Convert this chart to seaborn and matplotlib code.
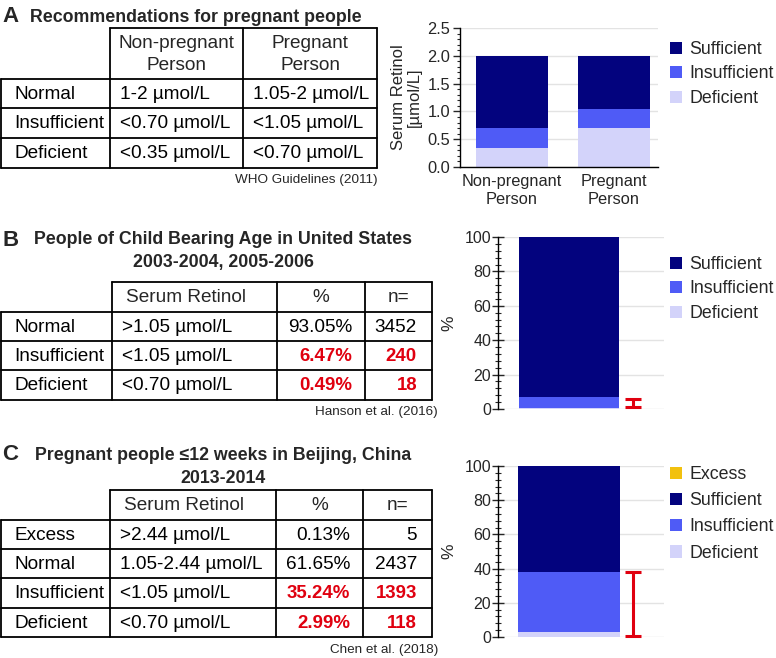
import numpy as np
import pandas as pd
import seaborn as sns
import matplotlib.pyplot as plt
from matplotlib.patches import Patch
from matplotlib.ticker import AutoMinorLocator

#figure size in pixels
W, H = 776, 658

#colours
c_suff = "#03037e"
c_insuff = "#4f5bf6"
c_def = "#d3d3fa"
c_exc = "#f2c10e"
c_red = "#e0000f"

#panel A data
a_title = "Recommendations for pregnant people"
a_groups = ["Non-pregnant\nPerson", "Pregnant\nPerson"]
a_rows = ["Normal", "Insufficient", "Deficient"]
a_nonpreg = ["1-2 µmol/L", "<0.70 µmol/L", "<0.35 µmol/L"]
a_preg = ["1.05-2 µmol/L", "<1.05 µmol/L", "<0.70 µmol/L"]
a_source = "WHO Guidelines (2011)"
a_deficient = [0.35, 0.70]
a_insufficient = [0.35, 0.35]
a_sufficient = [1.30, 0.95]

#panel B data
b_title = "People of Child Bearing Age in United States\n2003-2004, 2005-2006"
b_rows = ["Normal", "Insufficient", "Deficient"]
b_range = [">1.05 µmol/L", "<1.05 µmol/L", "<0.70 µmol/L"]
b_pct = [93.05, 6.47, 0.49]
b_n = [3452, 240, 18]
b_source = "Hanson et al. (2016)"
b_err = [1.2, 5.8]

#panel C data
c_title = "Pregnant people ≤12 weeks in Beijing, China\n2013-2014"
c_rows = ["Excess", "Normal", "Insufficient", "Deficient"]
c_range = [">2.44 µmol/L", "1.05-2.44 µmol/L", "<1.05 µmol/L", "<0.70 µmol/L"]
c_pct = [0.13, 61.65, 35.24, 2.99]
c_n = [5, 2437, 1393, 118]
c_source = "Chen et al. (2018)"
c_err = [0.6, 38.2]

sns.set_style("white")
plt.rcParams['font.family'] = ['Liberation Sans', 'DejaVu Sans']

fig = plt.figure(figsize=(W / 100, H / 100), dpi=100)

#overlay axes in pixel coords for the tables and texts
ov = fig.add_axes([0, 0, 1, 1])
ov.set_xlim(0, W)
ov.set_ylim(H, 0)
ov.axis("off")

TFS = 13.7


def px_rect(l, t, r, b):
    return [l / W, 1 - b / H, (r - l) / W, (b - t) / H]


def draw_table(col_x, row_y, header, body, red_rows=()):
    lw = 1.3
    #horizontal lines
    ov.plot([col_x[1], col_x[-1]], [row_y[0], row_y[0]], color="k", lw=lw)
    for y in row_y[1:]:
        ov.plot([col_x[0], col_x[-1]], [y, y], color="k", lw=lw)
    #vertical lines
    ov.plot([col_x[0], col_x[0]], [row_y[1], row_y[-1]], color="k", lw=lw)
    for x in col_x[1:]:
        ov.plot([x, x], [row_y[0], row_y[-1]], color="k", lw=lw)
    #header
    for j, (txt, align) in enumerate(header):
        if txt == "":
            continue
        yc = (row_y[0] + row_y[1]) / 2 + 1
        if align == "center":
            ov.text((col_x[j] + col_x[j + 1]) / 2, yc, txt, ha="center", va="center",
                    fontsize=TFS, linespacing=1.45)
        else:
            ov.text(col_x[j] + 14, yc, txt, ha="left", va="center", fontsize=TFS)
    #body
    for i, row in enumerate(body):
        yc = (row_y[i + 1] + row_y[i + 2]) / 2 + 1
        for j, (txt, align) in enumerate(row):
            red = (i in red_rows) and j >= 2
            kw = dict(fontsize=TFS - (0.3 if red else 0), va="center",
                      color=c_red if red else "k",
                      fontweight="bold" if red else "normal")
            if align == "left":
                pad = 13 if j == 0 else 10
                ov.text(col_x[j] + pad, yc, txt, ha="left", **kw)
            else:
                pad = 13 if j == 2 else 15
                ov.text(col_x[j + 1] - pad, yc, txt, ha="right", **kw)


def stacked(ax, x, layers, colors, width):
    tops = np.cumsum(layers, axis=0)
    for top, col in reversed(list(zip(tops, colors))):
        sns.barplot(x=x, y=list(top), color=col, saturation=1, width=width,
                    linewidth=0, errorbar=None, ax=ax)


def add_legend(ax, labels, colors, x_px, y_px, spacing):
    handles = [Patch(facecolor=c, edgecolor="none") for c in colors]
    ax.legend(handles, labels, loc="upper left", bbox_to_anchor=(x_px / W, 1 - y_px / H),
              bbox_transform=fig.transFigure, frameon=False, fontsize=12.8,
              handlelength=0.68, handleheight=0.68, handletextpad=0.4,
              labelspacing=spacing, borderaxespad=0, borderpad=0)


# ---------------- panel A ----------------
ov.text(2, 16, "A", fontsize=16, fontweight="bold", va="center", ha="left")
ov.text(30, 17, a_title, fontsize=12.75, fontweight="bold", va="center", ha="left")
a_header = [("", "center"), (a_groups[0], "center"), (a_groups[1], "center")]
a_body = [[(r, "left"), (v1, "left"), (v2, "left")] for r, v1, v2 in zip(a_rows, a_nonpreg, a_preg)]
draw_table([1, 110, 243, 377], [28, 79, 108, 138, 168], a_header, a_body)
ov.text(378, 180, a_source, fontsize=9.7, ha="right", va="center")

axA = fig.add_axes(px_rect(460, 28, 658, 167))
stacked(axA, a_groups, [a_deficient, a_insufficient, a_sufficient], [c_def, c_insuff, c_suff], 0.7)
axA.set_xlim(-0.51, 1.43)
axA.set_ylim(0, 2.5)
axA.set_yticks([0, 0.5, 1.0, 1.5, 2.0, 2.5])
axA.set_yticklabels(["0.0", "0.5", "1.0", "1.5", "2.0", "2.5"])
axA.yaxis.set_minor_locator(AutoMinorLocator(5))
axA.tick_params(axis="y", which="major", direction="out", length=5, width=1, labelsize=11.8, pad=2, left=True)
axA.tick_params(axis="y", which="minor", direction="out", length=2.5, width=0.8, left=True)
axA.tick_params(axis="x", length=0, labelsize=11.8, pad=5)
for lab in axA.get_xticklabels():
    lab.set_linespacing(1.25)
axA.set_ylabel("Serum Retinol\n[µmol/L]", fontsize=12, linespacing=1.1, labelpad=4)
axA.set_xlabel("")
axA.yaxis.grid(True, color="#e3e3e3", lw=1)
axA.set_axisbelow(True)
for s in ["top", "right"]:
    axA.spines[s].set_visible(False)
for s in ["left", "bottom"]:
    axA.spines[s].set_color("k")
    axA.spines[s].set_linewidth(1)
add_legend(axA, ["Sufficient", "Insufficient", "Deficient"], [c_suff, c_insuff, c_def], 670, 41, 0.42)


def pct_axes(rect, err):
    ax = fig.add_axes(rect)
    ax.set_xlim(-0.426, 0.57)
    ax.set_ylim(0, 100)
    ax.set_yticks([0, 20, 40, 60, 80, 100])
    ax.yaxis.set_minor_locator(AutoMinorLocator(5))
    ax.tick_params(axis="y", which="major", direction="inout", length=8, width=1, labelsize=11.5, pad=1, left=True)
    ax.tick_params(axis="y", which="minor", direction="inout", length=4, width=0.8, left=True)
    ax.tick_params(axis="x", length=0, labelbottom=False)
    ax.set_ylabel("%", fontsize=12.5, labelpad=6)
    ax.set_xlabel("")
    ax.yaxis.grid(True, color="#e3e3e3", lw=1)
    ax.set_axisbelow(True)
    for s in ["top", "right", "bottom"]:
        ax.spines[s].set_visible(False)
    ax.spines["left"].set_color("k")
    ax.spines["left"].set_linewidth(1)
    mid = (err[0] + err[1]) / 2
    ax.errorbar(0.384, mid, yerr=(err[1] - err[0]) / 2, color=c_red, lw=2.2,
                capsize=6, capthick=2.2, fmt="none", clip_on=False, zorder=5)
    return ax


# ---------------- panel B ----------------
ov.text(2, 240, "B", fontsize=16, fontweight="bold", va="center", ha="left")
ov.text(223, 251, b_title, fontsize=12.75, fontweight="bold", va="center", ha="center", linespacing=1.4)
b_header = [("", "center"), ("Serum Retinol", "left"), ("%", "center"), ("n=", "center")]
b_body = [[(r, "left"), (s, "left"), (f"{p:.2f}%", "right"), (str(n), "right")]
          for r, s, p, n in zip(b_rows, b_range, b_pct, b_n)]
draw_table([1, 112, 277, 365, 432], [282, 312, 341, 370, 400], b_header, b_body, red_rows=(1, 2))
ov.text(438, 412, b_source, fontsize=9.7, ha="right", va="center")

axB = pct_axes(px_rect(498, 237, 664, 409), b_err)
stacked(axB, ["B"], [[b_pct[2]], [b_pct[1]], [b_pct[0]]], [c_def, c_insuff, c_suff], 0.6)
axB.set_xlim(-0.426, 0.57)
axB.set_ylim(0, 100)
axB.tick_params(axis="x", length=0, labelbottom=False)
axB.set_xlabel("")
add_legend(axB, ["Sufficient", "Insufficient", "Deficient"], [c_suff, c_insuff, c_def], 670, 256, 0.42)

# ---------------- panel C ----------------
ov.text(2, 455, "C", fontsize=16, fontweight="bold", va="center", ha="left")
ov.text(223, 467, c_title, fontsize=12.75, fontweight="bold", va="center", ha="center", linespacing=1.4)
c_header = [("", "center"), ("Serum Retinol", "left"), ("%", "center"), ("n=", "center")]
c_body = [[(r, "left"), (s, "left"), (f"{p:.2f}%", "right"), (str(n), "right")]
          for r, s, p, n in zip(c_rows, c_range, c_pct, c_n)]
draw_table([1, 110, 276, 363, 432], [490, 520, 549, 578, 608, 637], c_header, c_body, red_rows=(2, 3))
ov.text(438, 650, c_source, fontsize=9.7, ha="right", va="center")

axC = pct_axes(px_rect(498, 466, 664, 637), c_err)
stacked(axC, ["C"], [[c_pct[3]], [c_pct[2]], [c_pct[1]], [c_pct[0]]], [c_def, c_insuff, c_suff, c_exc], 0.61)
axC.set_xlim(-0.426, 0.57)
axC.set_ylim(0, 100)
axC.tick_params(axis="x", length=0, labelbottom=False)
axC.set_xlabel("")
add_legend(axC, ["Excess", "Sufficient", "Insufficient", "Deficient"], [c_exc, c_suff, c_insuff, c_def], 670, 466, 0.52)

fig.savefig("out.png", dpi=100)
